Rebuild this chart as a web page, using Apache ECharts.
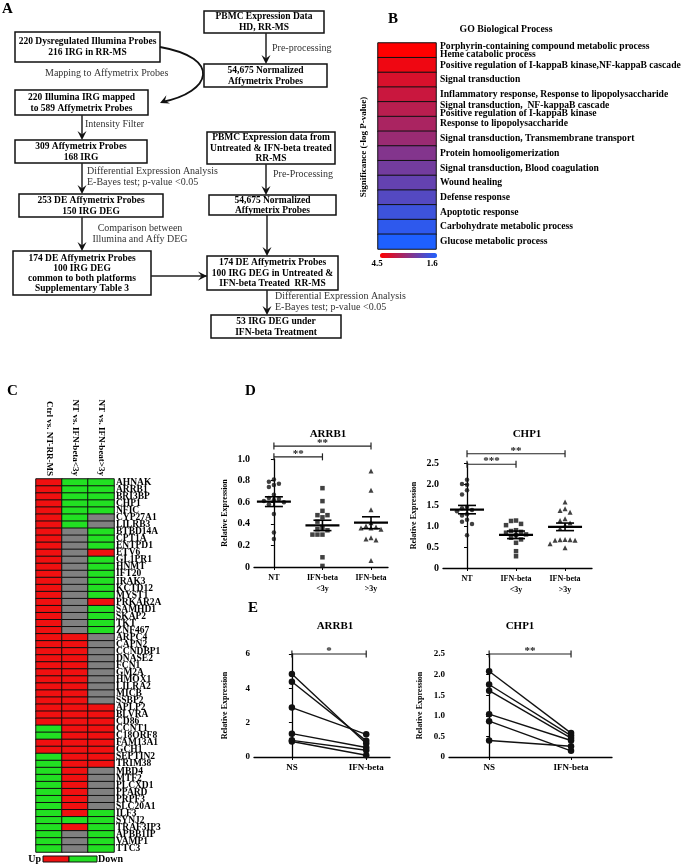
<!DOCTYPE html>
<html><head><meta charset="utf-8">
<script src="https://cdn.jsdelivr.net/npm/echarts@6/dist/echarts.min.js"></script>
<style>html,body{margin:0;padding:0;background:#fff}#c{width:685px;height:866px}</style>
</head><body><div id="c"></div>
<script>
// ================= DATA =================
// Panel B: GO Biological Process, significance (-log P-value)
const goTerms = [
  'Porphyrin-containing compound metabolic process\nHeme catabolic process',
  'Positive regulation of I-kappaB kinase,NF-kappaB cascade',
  'Signal transduction',
  'Inflammatory response, Response to lipopolysaccharide',
  'Signal transduction,  NF-kappaB cascade\nPositive regulation of I-kappaB kinase',
  'Response to lipopolysaccharide',
  'Signal transduction, Transmembrane transport',
  'Protein homooligomerization',
  'Signal transduction, Blood coagulation',
  'Wound healing',
  'Defense response',
  'Apoptotic response',
  'Carbohydrate metabolic process',
  'Glucose metabolic process'
];
const goSig = [4.5, 4.3, 4.0, 3.8, 3.6, 3.4, 3.2, 2.9, 2.7, 2.5, 2.3, 2.0, 1.8, 1.6];
const goScaleLabels = ['4.5', '1.6'];

// Panel C: regulation (1 = Up, -1 = Down, 0 = not changed)
const heatCols = ['Ctrl vs. NT-RR-MS', 'NT vs. IFN-beta<3y', 'NT vs. IFN-beat>3y'];
const genes = ['AHNAK','ARRB1','BRI3BP','CHP1','NFIC','CYP27A1','LILRB3','BTBD14A','CPT1A','ENTPD1',
  'ETV6','GL1PR1','HNMT','IFT20','IRAK3','KCTD12','MYST1','PRKAR2A','SAMHD1','SKAP2',
  'TKT','ZNF467','ARPC4','CAPN2','CCNDBP1','DNASE2','FCN1','GM2A','HMOX1','LILRA2',
  'MICB','SSBP2','APLP2','BLVRA','CD86','CCNT1','C18ORF8','FAM13A1','GCH1','SEPTIN2',
  'TRIM38','MBD4','MTF2','PLCXD1','PPARD','PRPF3','SLC20A1','ILF3','SYNJ2','TRAF3IP3',
  'APBB1IP','VAMP1','TTC3'];
const ctrlVsNT = [1,1,1,1,1,1,1,1,1,1, 1,1,1,1,1,1,1,1,1,1, 1,1,1,1,1,1,1,1,1,1, 1,1,1,1,1,-1,-1,1,1,-1,
  -1,-1,-1,-1,-1,-1,-1,-1,-1,-1, -1,-1,-1];
const ntVsLt3 = [-1,-1,-1,-1,-1,-1,-1,0,0,0, 0,0,0,0,0,0,0,0,0,0, 0,0,1,1,1,1,1,1,1,1, 1,1,1,1,1,1,1,1,1,1,
  1,1,1,1,1,1,1,1,-1,1, 0,0,0];
const ntVsGt3 = [-1,-1,-1,-1,-1,0,0,-1,-1,-1, 1,-1,-1,-1,-1,-1,-1,1,-1,-1, -1,-1,0,0,0,0,0,0,0,0,
  0,0,1,1,1,1,1,1,1,1, 1,0,0,0,0,0,0,-1,-1,-1, -1,-1,-1];
const legendC = ['Up', 'Down'];

// Panel D: relative expression
const dCats = ['NT', 'IFN-beta\n<3y', 'IFN-beta\n>3y'];
const arrb1NT  = [0.81,0.79,0.77,0.76,0.74,0.67,0.64,0.63,0.62,0.61,0.60,0.58,0.49,0.32,0.26];
const arrb1Lt3 = [0.73,0.61,0.52,0.48,0.48,0.46,0.42,0.36,0.35,0.34,0.30,0.30,0.30,0.09,0.01];
const arrb1Gt3 = [0.89,0.71,0.53,0.41,0.38,0.37,0.36,0.36,0.35,0.27,0.26,0.25,0.06];
const arrb1Mean = [0.605, 0.385, 0.41];
const arrb1Sem  = [0.045, 0.048, 0.055];
const chp1NT  = [2.10,2.00,1.98,1.85,1.75,1.45,1.42,1.38,1.35,1.28,1.25,1.15,1.10,1.05,0.78];
const chp1Lt3 = [1.13,1.12,1.05,1.02,0.90,0.88,0.86,0.84,0.80,0.78,0.72,0.68,0.60,0.40,0.28];
const chp1Gt3 = [1.57,1.41,1.37,1.33,1.17,1.13,1.07,1.02,0.94,0.68,0.67,0.67,0.66,0.66,0.58,0.48];
const chp1Mean = [1.39, 0.79, 0.98];
const chp1Sem  = [0.10, 0.09, 0.09];
const dArrSig = [[0, 1, 1.02, '**'], [0, 2, 1.12, '**']];
const dChpSig = [[0, 1, 2.47, '***'], [0, 2, 2.72, '**']];

// Panel E: paired samples
const eCats = ['NS', 'IFN-beta'];
const eArrNS  = [4.83, 4.38, 2.88, 1.36, 0.97, 0.90];
const eArrIFN = [0.78, 0.94, 1.32, 0.55, 0.39, 0.10];
const eChpNS  = [2.08, 1.76, 1.61, 1.04, 0.87, 0.40];
const eChpIFN = [0.58, 0.52, 0.46, 0.40, 0.15, 0.26];
const eArrSig = [[0, 1, 6.0, '*']];
const eChpSig = [[0, 1, 2.5, '**']];

// ================= HELPERS =================
const SERIF = '"Liberation Serif","Times New Roman",serif';
const graphics = [];
function txt(x, y, s, o) {
  o = o || {};
  graphics.push({type: 'text', silent: true, rotation: o.rot || 0, x: x, y: y,
    style: {text: s, x: 0, y: 0, fill: o.color || '#000', font: (o.weight || 'bold') + ' ' + (o.size || 9.5) + 'px ' + SERIF,
      textAlign: o.align || 'left', textVerticalAlign: o.va || 'middle', lineHeight: o.lh || 11}});
}
function box(x, y, w, h, s, lh) {
  graphics.push({type: 'rect', shape: {x: x, y: y, width: w, height: h}, style: {fill: '#fff', stroke: '#111', lineWidth: 1.5}});
  txt(x + w / 2, y + h / 2 + 0.5, s, {align: 'center', lh: lh || 11});
}
function head(x2, y2, ang) {
  const L = 9, W = 4.5;
  const c = Math.cos(ang), s = Math.sin(ang);
  const bx = x2 - L * c, by = y2 - L * s;
  const mx = x2 - 0.6 * L * c, my = y2 - 0.6 * L * s;
  graphics.push({type: 'polygon', shape: {points: [[x2, y2], [bx - W * s, by + W * c], [mx, my], [bx + W * s, by - W * c]]},
    style: {fill: '#111'}});
}
function arrow(x1, y1, x2, y2) {
  graphics.push({type: 'line', shape: {x1: x1, y1: y1, x2: x2, y2: y2 - (y2 > y1 ? 3 : 0)}, style: {stroke: '#222', lineWidth: 1.5}});
  head(x2, y2, Math.atan2(y2 - y1, x2 - x1));
}

// ---- Panel A flowchart
txt(2, 9, 'A', {size: 15});
box(204, 11, 120, 22, 'PBMC Expression Data\nHD, RR-MS');
box(204, 64, 123, 23, '54,675 Normalized\nAffymetrix Probes');
box(15, 32, 145, 30, '220 Dysregulated Illumina Probes\n216 IRG in RR-MS');
box(15, 90, 133, 25, '220 Illumina IRG mapped\nto 589 Affymetrix Probes');
box(15, 140, 132, 23, '309 Affymetrix Probes\n168 IRG');
box(19, 194, 144, 23, '253 DE Affymetrix Probes\n150 IRG DEG');
box(13, 251, 138, 44, '174 DE Affymetrix Probes\n100 IRG DEG\ncommon to both platforms\nSupplementary Table 3', 10);
box(207, 132, 128, 32, 'PBMC Expression data from\nUntreated & IFN-beta treated\nRR-MS', 10.5);
box(209, 195, 127, 20, '54,675 Normalized\nAffymetrix Probes', 10);
box(207, 256, 131, 34, '174 DE Affymetrix Probes\n100 IRG DEG in Untreated &\nIFN-beta Treated  RR-MS', 10.5);
box(211, 315, 130, 23, '53 IRG DEG under\nIFN-beta Treatment');
arrow(266, 33, 266, 64);
arrow(82, 115, 82, 140);
arrow(82, 163, 82, 194);
arrow(82, 217, 82, 251);
arrow(266, 164, 266, 195);
arrow(267, 215, 267, 256);
arrow(267, 290, 267, 315);
arrow(151, 276, 207, 276);
graphics.push({type: 'bezierCurve', shape: {x1: 160, y1: 47, cpx1: 222, cpy1: 58, cpx2: 212, cpy2: 92, x2: 162, y2: 102},
  style: {stroke: '#111', lineWidth: 1.8, fill: null}});
head(160, 103, Math.atan2(103 - 95, 160 - 178));
const lab = {weight: 'normal', size: 10, color: '#333'};
txt(272, 48, 'Pre-processing', lab);
txt(45, 73, 'Mapping to Affymetrix Probes', lab);
txt(85, 124, 'Intensity Filter', lab);
txt(87, 176.5, 'Differential Expression Analysis\nE-Bayes test; p-value <0.05', lab);
txt(140, 233.5, 'Comparison between\nIllumina and Affy DEG', Object.assign({align: 'center'}, lab));
txt(273, 174, 'Pre-Processing', lab);
txt(275, 302, 'Differential Expression Analysis\nE-Bayes test; p-value <0.05', lab);

// ---- Panel B decorations
txt(388, 19, 'B', {size: 15});
txt(506, 29, 'GO Biological Process', {align: 'center', size: 9.8});
txt(364, 147, 'Significance (-log P-value)', {align: 'center', rot: Math.PI / 2, size: 9});
txt(377, 264, goScaleLabels[0], {align: 'center', size: 9});
txt(432, 264, goScaleLabels[1], {align: 'center', size: 9});

// ---- Panel C decorations
txt(7, 391, 'C', {size: 15});
txt(41, 859, legendC[0], {align: 'right', size: 10});
graphics.push({type: 'rect', shape: {x: 43, y: 856, width: 26, height: 6}, style: {fill: '#f01010', stroke: '#111', lineWidth: 1}});
graphics.push({type: 'rect', shape: {x: 69, y: 856, width: 28, height: 6}, style: {fill: '#22e022', stroke: '#111', lineWidth: 1}});
txt(98, 859, legendC[1], {size: 10});

// ---- Panel D / E decorations
txt(245, 391, 'D', {size: 15});
txt(248, 608, 'E', {size: 15});
txt(328, 434, 'ARRB1', {align: 'center', size: 11});
txt(527, 434, 'CHP1', {align: 'center', size: 11});
txt(335, 626, 'ARRB1', {align: 'center', size: 11});
txt(520, 626, 'CHP1', {align: 'center', size: 11});

// Beeswarm-style horizontal spread for dot plots (deterministic)
function swarm(vals, cx, pxY, pxX, d) {
  const order = vals.map((v, i) => i).sort((a, b) => vals[b] - vals[a]);
  const placed = [];
  const out = [];
  order.forEach(i => {
    const y = vals[i] * pxY;
    let off = 0;
    for (let k = 0; k < 40; k++) {
      const cand = (k % 2 === 0 ? 1 : -1) * Math.ceil(k / 2) * d;
      if (placed.every(p => Math.hypot(p[0] - cand, p[1] - y) >= d)) { off = cand; break; }
    }
    placed.push([off, y]);
    out.push([cx + off / pxX, vals[i]]);
  });
  return out;
}
function meanSemRender(params, api) {
  const x = api.value(0), m = api.value(1), s = api.value(2);
  const c = api.coord([x, m]), hi = api.coord([x, m + s]), lo = api.coord([x, m - s]);
  const st = {stroke: '#000', lineWidth: 1.6};
  return {type: 'group', children: [
    {type: 'line', shape: {x1: c[0] - 17, y1: c[1], x2: c[0] + 17, y2: c[1]}, style: {stroke: '#000', lineWidth: 2.2}},
    {type: 'line', shape: {x1: c[0], y1: hi[1], x2: c[0], y2: lo[1]}, style: st},
    {type: 'line', shape: {x1: c[0] - 9, y1: hi[1], x2: c[0] + 9, y2: hi[1]}, style: st},
    {type: 'line', shape: {x1: c[0] - 9, y1: lo[1], x2: c[0] + 9, y2: lo[1]}, style: st}
  ]};
}
function bracketRender(arr) {
  return function (params, api) {
    const b = arr[params.dataIndex];
    const p1 = api.coord([b[0], b[2]]), p2 = api.coord([b[1], b[2]]);
    const st = {stroke: '#222', lineWidth: 1.2};
    return {type: 'group', children: [
      {type: 'line', shape: {x1: p1[0], y1: p1[1], x2: p2[0], y2: p2[1]}, style: st},
      {type: 'line', shape: {x1: p1[0], y1: p1[1] - 3.5, x2: p1[0], y2: p1[1] + 3.5}, style: st},
      {type: 'line', shape: {x1: p2[0], y1: p2[1] - 3.5, x2: p2[0], y2: p2[1] + 3.5}, style: st},
      {type: 'text', style: {text: b[3], x: (p1[0] + p2[0]) / 2, y: p1[1] + 2.5, textAlign: 'center', textVerticalAlign: 'bottom',
        fill: '#222', font: 'bold 11px ' + SERIF}}
    ]};
  };
}

// ================= AXES / GRIDS =================
const axisTxt = {fontFamily: SERIF, fontWeight: 'bold', color: '#000'};
const grids = [
  {left: 378, top: 43, width: 58, height: 206},       // 0 B
  {left: 36, top: 479, width: 78, height: 373},       // 1 C
  {left: 254, top: 459, width: 134, height: 108},     // 2 D ARRB1
  {left: 443, top: 463, width: 149, height: 105},     // 3 D CHP1
  {left: 254, top: 654, width: 136, height: 103},     // 4 E ARRB1
  {left: 449, top: 654, width: 163, height: 103}      // 5 E CHP1
];
function catXAxis(grid, cats, min, max, size) {
  return {type: 'value', gridIndex: grid, min: min, max: max, splitLine: {show: false},
    axisLine: {lineStyle: {color: '#000', width: 1.3}},
    axisTick: {customValues: cats.map((c, i) => i), length: 3, lineStyle: {color: '#000'}},
    axisLabel: Object.assign({customValues: cats.map((c, i) => i), formatter: v => cats[Math.round(v)] || '',
      fontSize: size, lineHeight: 11, margin: 5}, axisTxt)};
}
function valYAxis(grid, max, interval, size, fmt) {
  return {type: 'value', gridIndex: grid, min: 0, max: max, interval: interval, splitLine: {show: false},
    name: 'Relative Expression', nameLocation: 'middle', nameGap: 25, nameRotate: 90,
    nameTextStyle: {fontFamily: SERIF, fontWeight: 'bold', fontSize: 8, color: '#000'},
    axisLine: {show: true, lineStyle: {color: '#000', width: 1.3}},
    axisTick: {show: true, length: 3, lineStyle: {color: '#000'}},
    axisLabel: Object.assign({fontSize: size, margin: 4, formatter: fmt}, axisTxt)};
}
const fmt1 = v => v === 0 ? '0' : v.toFixed(1);
const fmt0 = v => String(v);

const xAxes = [
  {type: 'category', gridIndex: 0, data: [''], show: false},
  {type: 'category', gridIndex: 1, data: heatCols, position: 'top', axisLine: {show: false}, axisTick: {show: false},
    axisLabel: Object.assign({rotate: 90, interval: 0, fontSize: 9, margin: 3}, axisTxt)},
  catXAxis(2, dCats, -0.41, 2.35, 8),
  catXAxis(3, dCats, -0.49, 2.55, 8),
  catXAxis(4, eCats, -0.51, 1.32, 9),
  catXAxis(5, eCats, -0.49, 1.5, 9)
];
const yAxes = [
  {type: 'category', gridIndex: 0, data: goTerms, inverse: true, position: 'right', axisLine: {show: false}, axisTick: {show: false},
    axisLabel: Object.assign({interval: 0, fontSize: 9.6, lineHeight: 8, margin: 4, align: 'left'}, axisTxt)},
  {type: 'category', gridIndex: 1, data: genes, inverse: true, position: 'right', axisLine: {show: false}, axisTick: {show: false},
    axisLabel: Object.assign({interval: 0, fontSize: 9.5, lineHeight: 7, margin: 2, align: 'left'}, axisTxt)},
  valYAxis(2, 1.0, 0.2, 10, fmt1),
  valYAxis(3, 2.5, 0.5, 10, fmt1),
  valYAxis(4, 6, 2, 9, fmt0),
  valYAxis(5, 2.5, 0.5, 9, fmt1)
];

// ================= SERIES =================
const series = [];
series.push({type: 'heatmap', xAxisIndex: 0, yAxisIndex: 0, data: goSig.map((v, i) => [0, i, v]),
  itemStyle: {borderColor: '#111', borderWidth: 1}});
const cData = [];
[ctrlVsNT, ntVsLt3, ntVsGt3].forEach((col, ci) => col.forEach((v, ri) => cData.push([ci, ri, v])));
series.push({type: 'heatmap', xAxisIndex: 1, yAxisIndex: 1, data: cData, itemStyle: {borderColor: '#111', borderWidth: 1}});

function dotPlot(ax, groups, mean, sem, sig, pxY, pxX) {
  const syms = ['circle', 'rect', 'triangle'];
  groups.forEach((g, i) => series.push({type: 'scatter', xAxisIndex: ax, yAxisIndex: ax, symbol: syms[i], symbolSize: i === 2 ? 5 : 4.5,
    itemStyle: {color: '#111'}, data: swarm(g, i, pxY, pxX, 5), z: 3}));
  series.push({type: 'custom', xAxisIndex: ax, yAxisIndex: ax, renderItem: meanSemRender, encode: {x: 0, y: 1},
    data: mean.map((m, i) => [i, m, sem[i]]), z: 4});
  series.push({type: 'custom', xAxisIndex: ax, yAxisIndex: ax, renderItem: bracketRender(sig), encode: {x: 0, y: 1},
    data: sig.map(b => [b[0], b[2]]), clip: false, z: 4});
}
dotPlot(2, [arrb1NT, arrb1Lt3, arrb1Gt3], arrb1Mean, arrb1Sem, dArrSig, 108, 48.5);
dotPlot(3, [chp1NT, chp1Lt3, chp1Gt3], chp1Mean, chp1Sem, dChpSig, 42, 49);

function pairPlot(ax, a, b, sig) {
  a.forEach((v, i) => series.push({type: 'line', xAxisIndex: ax, yAxisIndex: ax, data: [[0, v], [1, b[i]]],
    symbol: 'circle', symbolSize: 6.5, lineStyle: {color: '#111', width: 1.4}, itemStyle: {color: '#111'}}));
  series.push({type: 'custom', xAxisIndex: ax, yAxisIndex: ax, renderItem: bracketRender(sig), encode: {x: 0, y: 1},
    data: sig.map(s => [s[0], s[2]]), clip: false});
}
pairPlot(4, eArrNS, eArrIFN, eArrSig);
pairPlot(5, eChpNS, eChpIFN, eChpSig);

const chart = echarts.init(document.getElementById('c'), null, {renderer: 'canvas'});
chart.setOption({
  animation: false,
  backgroundColor: '#fff',
  grid: grids,
  xAxis: xAxes,
  yAxis: yAxes,
  visualMap: [
    {type: 'continuous', seriesIndex: 0, min: 1.6, max: 4.5, inRange: {color: ['#1e60ff', '#ff0000']},
      orient: 'horizontal', inverse: true, left: 380, top: 253, itemWidth: 5, itemHeight: 57, calculable: false,
      padding: 0, text: null, showLabel: false, hoverLink: false},
    {type: 'piecewise', seriesIndex: 1, show: false,
      pieces: [{value: 1, color: '#f01010'}, {value: -1, color: '#22e022'}, {value: 0, color: '#808080'}]}
  ],
  series: series,
  graphic: graphics
});
</script></body></html>
